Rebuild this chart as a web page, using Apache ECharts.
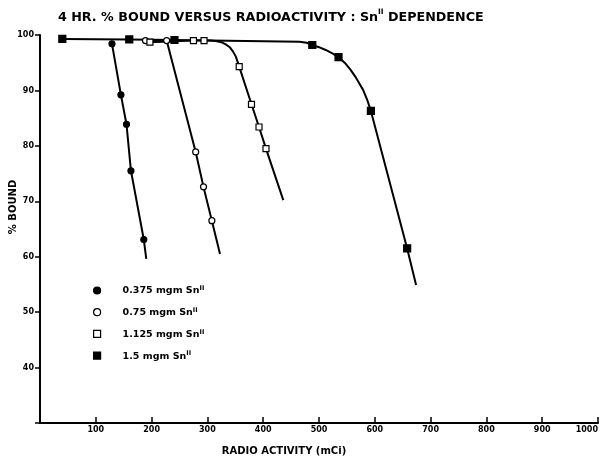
<!DOCTYPE html>
<html>
<head>
<meta charset="utf-8">
<script src="https://cdn.jsdelivr.net/npm/echarts@6/dist/echarts.min.js"></script>
<style>html,body{margin:0;padding:0;background:#fff}#c{width:607px;height:458px}</style>
</head>
<body>
<div id="c"></div>
<script>
// ---- data ----
var seriesNames = ['0.375 mgm Sn', '0.75 mgm Sn', '1.125 mgm Sn', '1.5 mgm Sn'];
// [radioactivity mCi, % bound, marked(1) / line-only(0)]
var s1 = [[129,98.4,1],[145,89.2,1],[155,83.9,1],[163,75.5,1],[186,63.1,1],[190.5,59.6,0]];
var s2 = [[189,99.0,1],[227,99.0,1],[279,78.9,1],[293,72.6,1],[308,66.5,1],[322.6,60.5,0]];
var s3 = [[197,98.7,1],[275,99.0,1],[294,99.0,1],[305,99.0,0],[315,98.9,0],[325,98.7,0],[333,98.3,0],[340,97.8,0],[346,97.0,0],[351,96.1,0],
          [357,94.3,1],[379,87.5,1],[392.5,83.4,1],[405,79.5,1],[436,70.2,0]];
var s4 = [[40,99.3,1],[160,99.2,1],[241,99.1,1],[465,98.8,0],[478,98.6,0],[488,98.2,1],[500,97.8,0],[512,97.3,0],[524,96.7,0],[535,96.0,1],
          [546,95.0,0],[556,93.8,0],[565,92.5,0],[572,91.3,0],[579,90.1,0],[586,88.4,0],[593,86.3,1],[658,61.5,1],[674,54.9,0]];
var xTicks = [100,200,300,400,500,600,700,800,900,1000];
var yTicks = [40,50,60,70,80,90,100];

var FONT = 'DejaVu Sans';
function pts(arr){
  return arr.map(function(p){
    return p[2] ? [p[0],p[1]] : {value:[p[0],p[1]], symbol:'none'};
  });
}
var symbols = ['circle','circle','rect','rect'];
var fills = ['#000','#fff','#fff','#000'];
var sizes = [6,6,6,7];
var all = [s1,s2,s3,s4];

var series = all.map(function(d,i){
  return {
    name: seriesNames[i], type:'line', data: pts(d),
    symbol: symbols[i], symbolSize: sizes[i], showAllSymbol:true,
    smooth: false,
    lineStyle:{color:'#000', width:2, join:'round'},
    itemStyle:{color:fills[i], borderColor:'#000', borderWidth:1.2},
    z: i===3 ? 2 : 3,
    animation:false
  };
});

var chart = echarts.init(document.getElementById('c'));
chart.setOption({
  backgroundColor:'#fff',
  animation:false,
  title:{
    text:'{t|4 HR. % BOUND VERSUS RADIOACTIVITY : Sn}{s|II}{t| DEPENDENCE}',
    left:58, top:8, padding:0,
    textStyle:{rich:{
      t:{fontFamily:FONT, fontWeight:'bold', fontSize:12.7, color:'#000', verticalAlign:'bottom', lineHeight:16},
      s:{fontFamily:FONT, fontWeight:'bold', fontSize:7.5, color:'#000', verticalAlign:'top', lineHeight:16}
    }}
  },
  legend:{
    orient:'vertical', left:93, top:285, padding:0, itemGap:10.7, itemWidth:7, itemHeight:7,
    data: seriesNames.map(function(n,i){
      return {name:n, icon: symbols[i], itemStyle:{color:fills[i], borderColor:'#000', borderWidth:1.2}};
    }),
    formatter:function(n){ return '{t|'+n+'}{s|II}'; },
    textStyle:{rich:{
      t:{fontFamily:FONT, fontWeight:'bold', fontSize:9.5, color:'#000', verticalAlign:'bottom', lineHeight:11, padding:[0,0,0,17]},
      s:{fontFamily:FONT, fontWeight:'bold', fontSize:6.5, color:'#000', verticalAlign:'top', lineHeight:11}
    }}
  },
  grid:{left:40, right:9, top:35, bottom:35, containLabel:false, outerBoundsMode:'none'},
  xAxis:{
    type:'value', min:0, max:1000, interval:100,
    name:'RADIO ACTIVITY (mCi)', nameLocation:'middle', nameGap:23, nameMoveOverlap:false,
    nameTextStyle:{fontFamily:FONT, fontWeight:'bold', fontSize:10, color:'#000', padding:[0,70,0,0]},
    axisLine:{lineStyle:{color:'#000', width:2}},
    axisTick:{inside:true, length:6, lineStyle:{color:'#000', width:1.5}},
    axisLabel:{margin:3, fontFamily:FONT, fontWeight:'bold', fontSize:8, color:'#000', alignMaxLabel:'right',
      formatter:function(v){ return xTicks.indexOf(v)>=0 ? String(v) : ''; }},
    splitLine:{show:false}
  },
  yAxis:{
    type:'value', min:30, max:100, interval:10,
    name:'% BOUND', nameLocation:'middle', nameGap:22, nameRotate:90, nameMoveOverlap:false,
    nameTextStyle:{fontFamily:FONT, fontWeight:'bold', fontSize:10, color:'#000', padding:[0,0,0,44]},
    axisLine:{lineStyle:{color:'#000', width:2}},
    axisTick:{length:5, lineStyle:{color:'#000', width:1.5}},
    axisLabel:{margin:6, fontFamily:FONT, fontWeight:'bold', fontSize:8, color:'#000',
      formatter:function(v){ return yTicks.indexOf(v)>=0 ? String(v) : ''; }},
    splitLine:{show:false}
  },
  series: series
});
</script>
</body>
</html>
